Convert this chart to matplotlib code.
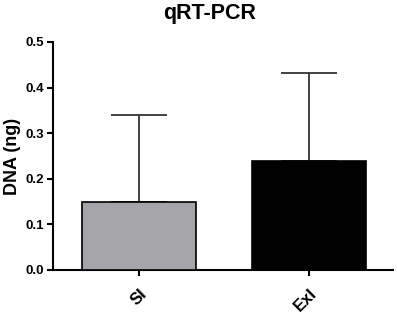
import matplotlib.pyplot as plt

groups = ["SI", "ExI"]
means = [0.150, 0.238]
sd_up = [0.190, 0.195]
colors = ["#a5a4a8", "#000000"]

plt.rcParams["font.family"] = ["Liberation Sans", "DejaVu Sans"]
plt.rcParams["font.weight"] = "bold"

fig = plt.figure(figsize=(3.97, 3.16), dpi=100)
ax = fig.add_axes([53 / 397, 46 / 316, 340 / 397, 228 / 316])

x = list(range(len(groups)))
ax.bar(x, means, width=0.667, color=colors, edgecolor="black", linewidth=1.2, zorder=3)
ax.errorbar(x, means, yerr=[[0] * len(means), sd_up], fmt="none",
            ecolor="#333333", elinewidth=1.3, capsize=20.5, capthick=1.3, zorder=2)

ax.set_xlim(-0.506, 1.494)
ax.set_ylim(0, 0.5)
ax.set_yticks([0.0, 0.1, 0.2, 0.3, 0.4, 0.5])
ax.set_yticklabels(["0.0", "0.1", "0.2", "0.3", "0.4", "0.5"])
ax.set_xticks(x)
ax.set_xticklabels(groups, rotation=45, ha="right", rotation_mode="anchor")

for s in ["top", "right"]:
    ax.spines[s].set_visible(False)
for s in ["left", "bottom"]:
    ax.spines[s].set_linewidth(1.5)
ax.tick_params(axis="both", width=1.5, length=4.5)
ax.tick_params(axis="y", labelsize=9.5, pad=2)
ax.tick_params(axis="x", labelsize=12, pad=7)

ax.set_ylabel("DNA (ng)", fontsize=13, fontweight="bold")
ax.yaxis.set_label_coords(-0.095, 0.5)
fig.text(210 / 397, 1 - 14 / 316, "qRT-PCR", fontsize=15.5, fontweight="bold",
         ha="center", va="center")

fig.savefig("out.png", dpi=100)
